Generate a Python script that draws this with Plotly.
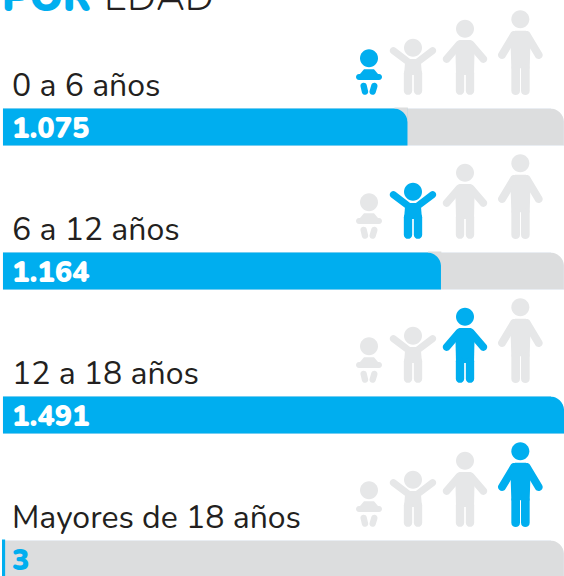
import plotly.graph_objects as go

categories = ["0 a 6 años", "6 a 12 años", "12 a 18 años", "Mayores de 18 años"]
values = [1075, 1164, 1491, 3]
value_labels = ["1.075", "1.164", "1.491", "3"]
track_max = 1491

W, H = 564, 576
BLUE, TRACK, ICON = "#00aeef", "#dcddde", "#e6e7e8"
TEXT = "#231f20"
FONT = "Nunito, Lato, 'Open Sans', sans-serif"
LEFT = 3
scale = (W - LEFT) / track_max
ROW0, PITCH, BAR_H = 127, 144, 37
CORNER = 13
rows = [ROW0 + PITCH * i for i in range(len(categories))]
K_ARC = 0.5523


def circle(cx, cy, r):
    k = r * K_ARC
    return (f"M {cx-r} {cy} C {cx-r} {cy-k} {cx-k} {cy-r} {cx} {cy-r} "
            f"C {cx+k} {cy-r} {cx+r} {cy-k} {cx+r} {cy} "
            f"C {cx+r} {cy+k} {cx+k} {cy+r} {cx} {cy+r} "
            f"C {cx-k} {cy+r} {cx-r} {cy+k} {cx-r} {cy} Z")


def capsule(x1, y1, x2, y2, w):
    dx, dy = x2 - x1, y2 - y1
    n = (dx * dx + dy * dy) ** 0.5
    ux, uy = dx / n, dy / n
    r = w / 2
    ox, oy = -uy * r, ux * r
    b = 1.33 * r
    return (f"M {x1+ox} {y1+oy} L {x2+ox} {y2+oy} "
            f"C {x2+ox+ux*b} {y2+oy+uy*b} {x2-ox+ux*b} {y2-oy+uy*b} {x2-ox} {y2-oy} "
            f"L {x1-ox} {y1-oy} "
            f"C {x1-ox-ux*b} {y1-oy-uy*b} {x1+ox-ux*b} {y1+oy-uy*b} {x1+ox} {y1+oy} Z")


def poly(*pts):
    return "M " + " L ".join(f"{x} {y}" for x, y in pts) + " Z"


def z(x, y):
    return x / 3 + 340, y / 3


def icon_parts(kind, dy):
    def C(x, y, r):
        a, b = z(x, y); return circle(a, b + dy, r / 3)
    def K(x1, y1, x2, y2, w):
        a, b = z(x1, y1); c, d = z(x2, y2); return capsule(a, b + dy, c, d + dy, w / 3)
    def P(*p):
        return poly(*[(z(x, y)[0], z(x, y)[1] + dy) for x, y in p])
    if kind == 0:
        return [C(87, 175, 27),
                K(57, 231, 117, 231, 18),
                P((58, 224), (72, 208), (102, 208), (116, 224), (110, 232), (64, 232)),
                K(71, 258, 75, 275, 19), K(103, 258, 98, 275, 19)]
    if kind == 1:
        return [C(219, 143, 27),
                K(160, 152, 205, 186, 21), K(278, 152, 233, 186, 21),
                P((196, 177), (219, 177), (242, 177), (246, 225), (192, 225)),
                K(204, 220, 204, 272, 25), K(234, 220, 234, 272, 25)]
    if kind == 2:
        return [C(375, 86, 27),
                K(358, 133, 320, 177, 23), K(392, 133, 430, 177, 23),
                P((358, 120), (392, 120), (404, 132), (402, 225), (348, 225), (346, 132)),
                K(360, 220, 360, 272, 25), K(390, 220, 390, 272, 25)]
    return [C(541, 58, 27),
            K(522, 105, 486, 165, 24), K(560, 105, 596, 165, 24),
            P((525, 92), (558, 92), (572, 105), (569, 205), (514, 205), (511, 105)),
            K(527, 205, 527, 272, 26), K(556, 205, 556, 272, 26)]


def corner_mask(v, y, color):
    """Cuts the top right corner of a bar, using the value axis."""
    xe = v
    xs = v - CORNER / scale
    k = (1 - K_ARC) * CORNER
    t = y - BAR_H / 2
    return dict(type="path", xref="x", yref="y", layer="above", fillcolor=color, line=dict(width=0),
                path=(f"M {xs} {t-1} L {xe+1} {t-1} L {xe+1} {t+CORNER} L {xe} {t+CORNER} "
                      f"C {xe} {t+k} {xe-(CORNER-k)/scale} {t} {xs} {t} Z"))


fig = go.Figure()
common = dict(orientation="h", hoverinfo="skip", showlegend=False, xaxis="x", yaxis="y")
fig.add_trace(go.Bar(x=[track_max] * 4, y=rows, width=BAR_H, marker=dict(color=TRACK), **common))
# A very small value still shows as a visible sliver in the reference, hence its outline.
outline = [2 if v * scale < 3 else 0 for v in values]
fig.add_trace(go.Bar(x=values, y=rows, width=BAR_H,
                     marker=dict(color=BLUE, line=dict(color=BLUE, width=outline)), **common))

shapes = []
for v, r in zip(values, rows):
    if v * scale > CORNER and v < track_max:
        shapes.append(corner_mask(v, r, TRACK))
    shapes.append(corner_mask(track_max, r, "white"))
for i, r in enumerate(rows):
    for k in range(4):
        for p in icon_parts(k, PITCH * i):
            shapes.append(dict(type="path", path=p, xref="x2", yref="y", layer="above",
                               fillcolor=BLUE if k == i else ICON, line=dict(width=0)))

ann = [dict(text="POR", x=0, y=1 + 3 / H, xref="paper", yref="paper", xanchor="left", yanchor="middle", showarrow=False,
            font=dict(family=FONT, size=41, color=BLUE, weight=900)),
       dict(text="EDAD", x=102 / W, y=1 + 3 / H, xref="paper", yref="paper", xanchor="left", yanchor="middle", showarrow=False,
            font=dict(family=FONT, size=40, color=TEXT, weight=300))]
for i, r in enumerate(rows):
    ann.append(dict(text=categories[i], x=10, y=r - 42, xref="x2", yref="y", xanchor="left", yanchor="middle",
                    showarrow=False, font=dict(family=FONT, size=32, color=TEXT)))
    ann.append(dict(text=value_labels[i], x=10, y=r + 1, xref="x2", yref="y", xanchor="left", yanchor="middle",
                    showarrow=False, font=dict(family=FONT, size=29, weight=900,
                                               color="white" if values[i] > 100 else BLUE)))

fig.update_layout(
    width=W, height=H, margin=dict(l=0, r=0, t=0, b=0), barmode="overlay",
    paper_bgcolor="white", plot_bgcolor="white", shapes=shapes, annotations=ann,
    xaxis=dict(range=[-LEFT / scale, track_max], visible=False, fixedrange=True),
    xaxis2=dict(range=[0, W], visible=False, overlaying="x", fixedrange=True),
    yaxis=dict(range=[H, 0], visible=False, fixedrange=True),
)
fig.write_html("out.html", config={"displayModeBar": False},
               post_script="document.body.style.margin='0';")
